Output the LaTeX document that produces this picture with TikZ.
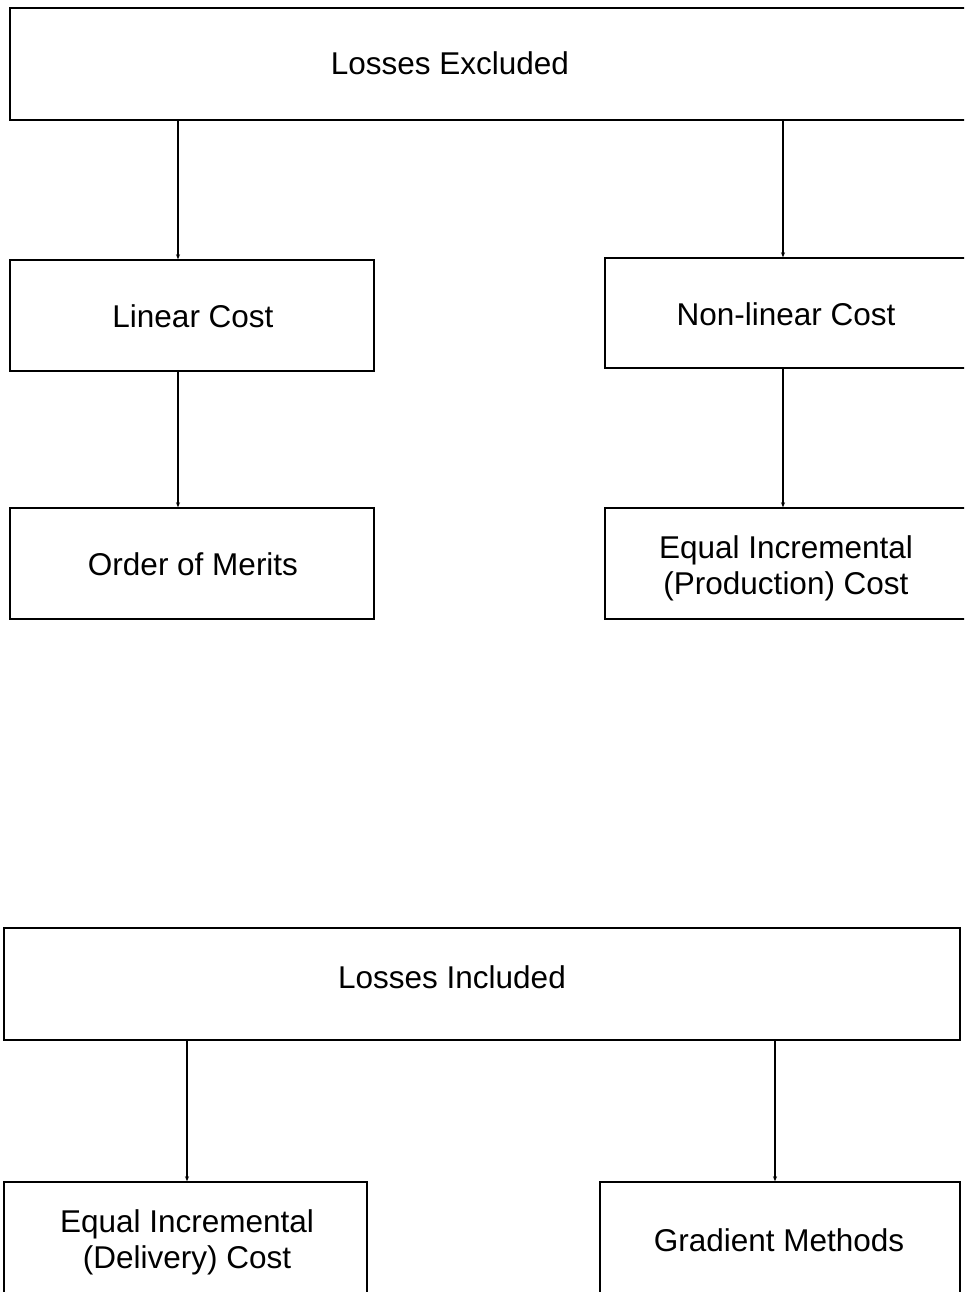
\documentclass[tikz,border=0pt]{standalone}
\usepackage{fontspec}
\setmainfont{Liberation Sans}
\usetikzlibrary{arrows.meta}
\begin{document}
\begin{tikzpicture}[x=1pt,y=-1pt,
  box/.style={draw, line width=1.4pt, inner sep=0pt, rectangle},
  lbl/.style={font=\fontsize{31.5}{36}\selectfont, align=center, inner sep=0pt},
  arr/.style={line width=1.1pt, -{Stealth[length=5pt,width=4pt]}}]
\useasboundingbox[fill=white] (0,0) rectangle (964,1292);
\clip (0,0) rectangle (964,1292);
% boxes
\node[box, minimum width=975pt, minimum height=112pt] (le) at (497.5,64) {};
\node[box, minimum width=364pt, minimum height=111pt] (lc) at (192,315.5) {};
\node[box, minimum width=380pt, minimum height=110pt] (nc) at (795,313) {};
\node[box, minimum width=364pt, minimum height=111pt] (om) at (192,563.5) {};
\node[box, minimum width=380pt, minimum height=111pt] (ei) at (795,563.5) {};
\node[box, minimum width=956pt, minimum height=112pt] (li) at (482,984) {};
\node[box, minimum width=363pt, minimum height=128pt] (ed) at (185.5,1246) {};
\node[box, minimum width=360pt, minimum height=128pt] (gm) at (780,1246) {};
% labels
\node[lbl] (tle) at (450,63) {Losses Excluded};
\node[lbl] (tlc) at (193,316) {Linear Cost};
\node[lbl] (tnc) at (786,314) {Non-linear Cost};
\node[lbl] (tom) at (193,564) {Order of Merits};
\node[lbl] (tei) at (786,568) {Equal Incremental\\(Production) Cost};
\node[lbl] (tli) at (452,977) {Losses Included};
\node[lbl] (ted) at (187,1242) {Equal Incremental\\(Delivery) Cost};
\node[lbl] (tgm) at (779,1240) {Gradient Methods};
% connector columns
\coordinate (c1) at (178,0);
\coordinate (c2) at (783,0);
\coordinate (c3) at (187,0);
\coordinate (c4) at (775,0);
% connectors
\draw[arr] (le.south -| c1) -- (lc.north -| c1);
\draw[arr] (le.south -| c2) -- (nc.north -| c2);
\draw[arr] (lc.south -| c1) -- (om.north -| c1);
\draw[arr] (nc.south -| c2) -- (ei.north -| c2);
\draw[arr] (li.south -| c3) -- (ed.north -| c3);
\draw[arr] (li.south -| c4) -- (gm.north -| c4);
\end{tikzpicture}
\end{document}
